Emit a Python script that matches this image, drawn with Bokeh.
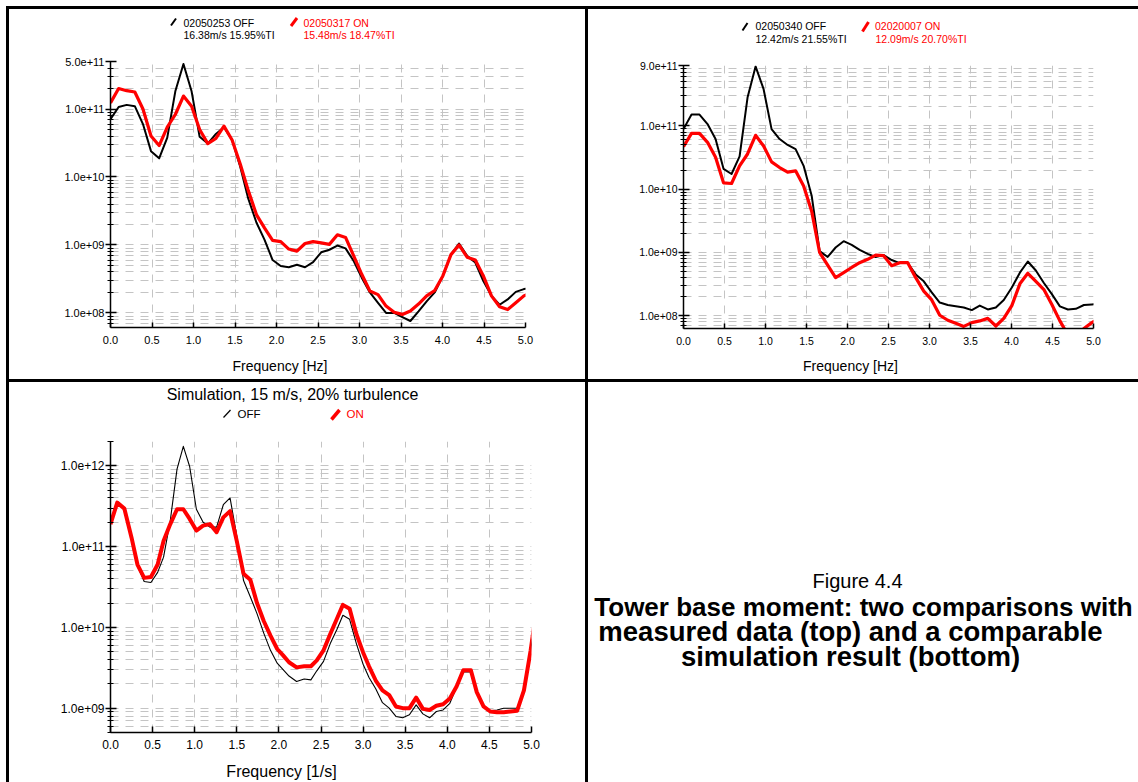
import math

from bokeh.plotting import figure
from bokeh.models import (FixedTicker, CustomJSTickFormatter, PrintfTickFormatter,
                          Label, Spacer, Range1d)
from bokeh.layouts import row, column
from bokeh.embed import file_html
from bokeh.resources import INLINE

FONT = "Liberation Sans"
GRID = "#c4c4c4"
RED = "#ff0000"

# ---------------------------------------------------------------- data
# frequency bins of the measured spectra [Hz]
freq_meas = [0.000, 0.098, 0.195, 0.293, 0.391, 0.488, 0.586, 0.684, 0.781, 0.879,
             0.977, 1.074, 1.172, 1.270, 1.367, 1.465, 1.563, 1.660, 1.758, 1.855,
             1.953, 2.051, 2.148, 2.246, 2.344, 2.441, 2.539, 2.637, 2.734, 2.832,
             2.930, 3.027, 3.125, 3.223, 3.320, 3.418, 3.516, 3.613, 3.711, 3.809,
             3.906, 4.004, 4.102, 4.199, 4.297, 4.395, 4.492, 4.590, 4.688, 4.785,
             4.883, 4.980, 5.078]

# run 02050253 (OFF) / 02050317 (ON)
m1_off = [7.1e10, 1.07e11, 1.15e11, 1.10e11, 6.0e10, 2.4e10, 1.88e10, 3.8e10, 1.82e11, 4.6e11,
          1.82e11, 3.9e10, 3.1e10, 4.3e10, 5.4e10, 3.5e10, 1.41e10, 4.8e9, 2.14e9, 1.2e9,
          6.0e8, 4.9e8, 4.7e8, 5.1e8, 4.7e8, 5.6e8, 7.8e8, 8.5e8, 9.8e8, 8.9e8,
          5.8e8, 3.3e8, 2.0e8, 1.41e8, 1.0e8, 1.0e8, 8.7e7, 7.6e7, 1.05e8, 1.48e8,
          2.0e8, 3.5e8, 7.2e8, 1.05e9, 6.9e8, 5.5e8, 2.95e8, 1.78e8, 1.32e8, 1.58e8,
          2.04e8, 2.24e8, 2.34e8]
m1_on = [1.23e11, 2.0e11, 1.86e11, 1.78e11, 1.0e11, 4.0e10, 2.9e10, 5.4e10, 8.3e10, 1.55e11,
         1.10e11, 5.0e10, 3.1e10, 3.7e10, 5.6e10, 3.5e10, 1.55e10, 6.3e9, 2.8e9, 1.78e9,
         1.17e9, 1.12e9, 8.7e8, 8.1e8, 1.05e9, 1.12e9, 1.07e9, 1.02e9, 1.41e9, 1.29e9,
         6.9e8, 3.7e8, 2.1e8, 1.86e8, 1.26e8, 1.02e8, 9.5e7, 1.07e8, 1.35e8, 1.78e8,
         2.14e8, 3.5e8, 7.2e8, 1.0e9, 6.6e8, 6.0e8, 3.5e8, 1.78e8, 1.23e8, 1.12e8,
         1.41e8, 1.78e8, 2.0e8]

# run 02050340 (OFF) / 02020007 (ON)
m2_off = [8.9e10, 1.51e11, 1.51e11, 1.07e11, 6.2e10, 2.1e10, 1.74e10, 3.3e10, 2.8e11, 8.7e11,
          3.8e11, 8.9e10, 6.2e10, 5.0e10, 4.3e10, 2.34e10, 7.9e9, 1.05e9, 8.5e8, 1.2e9,
          1.51e9, 1.32e9, 1.1e9, 9.5e8, 8.5e8, 9.1e8, 7.6e8, 6.8e8, 6.8e8, 4.5e8,
          3.5e8, 2.34e8, 1.62e8, 1.48e8, 1.41e8, 1.35e8, 1.23e8, 1.45e8, 1.26e8, 1.35e8,
          1.78e8, 2.8e8, 4.8e8, 7.2e8, 5.2e8, 3.3e8, 2.2e8, 1.41e8, 1.26e8, 1.29e8,
          1.48e8, 1.51e8, 1.55e8]
m2_on = [4.7e10, 7.6e10, 7.6e10, 5.5e10, 3.2e10, 1.26e10, 1.23e10, 2.34e10, 3.6e10, 7.1e10,
         4.8e10, 2.7e10, 2.2e10, 1.86e10, 1.95e10, 1.12e10, 4.5e9, 1.0e9, 6.3e8, 4.0e8,
         4.8e8, 5.8e8, 6.9e8, 7.8e8, 9.1e8, 8.9e8, 6.2e8, 6.9e8, 6.9e8, 4.0e8,
         2.45e8, 1.78e8, 1.02e8, 8.5e7, 7.6e7, 6.8e7, 7.8e7, 8.3e7, 9.1e7, 6.9e7,
         9.1e7, 1.45e8, 3.2e8, 4.7e8, 3.5e8, 2.6e8, 1.51e8, 8.3e7, 5.0e7, 4.2e7,
         6.3e7, 7.8e7, 9.3e7]

# simulation, 15 m/s, 20 % turbulence [1/s]
freq_sim = [0.00, 0.08, 0.165, 0.25, 0.32, 0.40, 0.48, 0.56, 0.63, 0.71,
            0.79, 0.865, 0.94, 1.02, 1.10, 1.18, 1.26, 1.34, 1.42, 1.50,
            1.58, 1.66, 1.74, 1.82, 1.90, 1.98, 2.05, 2.12, 2.21, 2.30,
            2.38, 2.45, 2.53, 2.61, 2.69, 2.76, 2.84, 2.92, 3.00, 3.07,
            3.15, 3.23, 3.31, 3.39, 3.47, 3.55, 3.63, 3.71, 3.79, 3.87,
            3.95, 4.03, 4.11, 4.19, 4.28, 4.35, 4.43, 4.51, 4.59, 4.67,
            4.75, 4.83, 4.91, 4.99, 5.07]
sim_off = [1.9e11, 3.5e11, 2.95e11, 1.2e11, 5.8e10, 3.7e10, 3.6e10, 4.8e10, 7.4e10, 2.1e11,
           9.1e11, 1.74e12, 9.8e11, 2.9e11, 2.0e11, 1.74e11, 1.74e11, 3.3e11, 4.0e11, 1.35e11,
           3.8e10, 2.4e10, 1.48e10, 8.5e9, 5.2e9, 3.6e9, 3.0e9, 2.5e9, 2.14e9, 2.3e9,
           2.24e9, 2.9e9, 3.8e9, 6.3e9, 9.5e9, 1.41e10, 1.26e10, 6.3e9, 3.5e9, 2.4e9,
           1.74e9, 1.17e9, 1.0e9, 7.9e8, 7.6e8, 8.3e8, 1.1e9, 8.5e8, 7.6e8, 9.1e8,
           9.5e8, 1.15e9, 1.82e9, 2.8e9, 2.8e9, 1.66e9, 1.05e9, 9.3e8, 9.5e8, 1.0e9,
           1.0e9, 1.0e9, 1.66e9, 5.2e9, 2.0e10]
sim_on = [1.9e11, 3.5e11, 2.95e11, 1.29e11, 6.0e10, 4.1e10, 4.2e10, 6.0e10, 1.17e11, 1.9e11,
          2.9e11, 2.9e11, 2.2e11, 1.58e11, 1.82e11, 1.9e11, 1.51e11, 2.3e11, 2.75e11, 1.17e11,
          4.6e10, 3.9e10, 2.0e10, 1.2e10, 7.9e9, 5.4e9, 4.5e9, 3.7e9, 3.2e9, 3.3e9,
          3.3e9, 3.9e9, 5.2e9, 8.3e9, 1.29e10, 1.9e10, 1.7e10, 8.3e9, 4.9e9, 3.3e9,
          2.2e9, 1.66e9, 1.45e9, 1.05e9, 1.0e9, 1.0e9, 1.35e9, 9.8e8, 9.5e8, 1.07e9,
          1.12e9, 1.32e9, 1.86e9, 2.95e9, 2.95e9, 1.58e9, 1.05e9, 9.1e8, 8.9e8, 8.9e8,
          9.1e8, 9.3e8, 1.66e9, 5.2e9, 2.0e10]

# axis ticks
x_ticks = [0.0, 0.5, 1.0, 1.5, 2.0, 2.5, 3.0, 3.5, 4.0, 4.5, 5.0]
m1_yticks = [1e8, 1e9, 1e10, 1e11, 5e11]
m2_yticks = [1e8, 1e9, 1e10, 1e11, 9e11]
sim_yticks = [1e9, 1e10, 1e11, 1e12]

m1_yrange = (6.1e7, 5e11)
m2_yrange = (6.3e7, 9e11)
sim_yrange = (5e8, 2e12)

m1_labels = ("02050253 OFF", "16.38m/s 15.95%TI", "02050317 ON", "15.48m/s 18.47%TI")
m2_labels = ("02050340 OFF", "12.42m/s 21.55%TI", "02020007 ON", "12.09m/s 20.70%TI")
sim_title = "Simulation, 15 m/s, 20% turbulence"
sim_labels = ("OFF", "ON")
caption = ["Figure 4.4",
           "Tower base moment: two comparisons with",
           "measured data (top) and a comparable",
           "simulation result (bottom)"]


# ---------------------------------------------------------------- helpers
SCI = CustomJSTickFormatter(code="""
const s = tick.toExponential(1);
const parts = s.split('e');
const ex = parts[1];
const sign = ex[0] === '-' ? '-' : '+';
let d = ex.replace('+', '').replace('-', '');
if (d.length < 2) { d = '0' + d; }
return parts[0] + 'e' + sign + d;
""")


def log_minor(lo, hi, majors):
    out = []
    for e in range(int(math.floor(math.log10(lo))), int(math.ceil(math.log10(hi))) + 1):
        for m in range(2, 10):
            v = m * 10.0 ** e
            if lo * 0.999 <= v <= hi * 1.001 and all(abs(v - t) > 1e-6 * t for t in majors):
                out.append(v)
    return out


def spectrum_panel(width, height, borders, yrange, yticks, tick_px, label_std, tick_in):
    left, right, top, bottom = borders
    p = figure(width=width, height=height, x_range=Range1d(0, 5),
               y_range=Range1d(*yrange), y_axis_type="log", title=None,
               output_backend="svg", toolbar_location=None,
               min_border_left=left, min_border_right=right,
               min_border_top=top, min_border_bottom=bottom)
    p.outline_line_color = None

    yt = FixedTicker(ticks=yticks, minor_ticks=log_minor(yrange[0], yrange[1], yticks))
    xt = FixedTicker(ticks=x_ticks, minor_ticks=[])

    ya = p.yaxis[0]
    ya.ticker = yt
    ya.formatter = SCI
    ya.major_tick_in = 6
    ya.major_tick_out = 5
    ya.minor_tick_in = 3
    ya.minor_tick_out = 3
    ya.major_label_standoff = 1

    xa = p.xaxis[0]
    xa.ticker = xt
    xa.formatter = PrintfTickFormatter(format="%.1f")
    xa.major_tick_in = tick_in
    xa.major_tick_out = 0
    xa.minor_tick_in = 0
    xa.minor_tick_out = 0
    xa.major_label_standoff = label_std

    for ax in (xa, ya):
        ax.axis_line_color = "black"
        ax.axis_line_width = 1.5
        ax.major_tick_line_color = "black"
        ax.major_tick_line_width = 1.5
        ax.minor_tick_line_color = "black"
        ax.minor_tick_line_width = 1.2
        ax.major_label_text_font = FONT
        ax.major_label_text_font_size = tick_px
        ax.major_label_text_color = "black"

    p.ygrid.ticker = yt
    p.xgrid.ticker = xt
    p.ygrid.grid_line_color = GRID
    p.ygrid.grid_line_dash = "8 7"
    p.ygrid.minor_grid_line_color = GRID
    p.ygrid.minor_grid_line_dash = "8 7"
    p.xgrid.grid_line_color = GRID
    p.xgrid.grid_line_dash = "8 7"
    return p


def text_strip(width, height, left, right, top, bottom, xr, yr):
    """Axis-less strip whose data coordinates are page pixels (y downwards)."""
    p = figure(width=width, height=height, x_range=Range1d(*xr), y_range=Range1d(*yr),
               x_axis_type=None, y_axis_type=None, title=None,
               output_backend="svg", toolbar_location=None,
               min_border_left=left, min_border_right=right,
               min_border_top=top, min_border_bottom=bottom)
    p.outline_line_color = None
    return p


def text(p, x, baseline, s, size, color="black", align="left", style="normal"):
    # Label is anchored at the middle of the em box; shift so the glyphs sit on `baseline`
    px = float(size.replace("px", ""))
    p.add_layout(Label(x=x, y=baseline - 0.35 * px, text=s, text_font=FONT,
                       text_font_size=size, text_color=color, text_align=align,
                       text_baseline="alphabetic", text_font_style=style))


def slash(p, x0, y0, x1, y1, color, width):
    p.line([x0, x1], [y0, y1], line_color=color, line_width=width, line_cap="butt")


# ---------------------------------------------------------------- top left cell
h1 = text_strip(576, 40, 101, 60, 0, 0, (110, 525), (49, 9))
slash(h1, 170.5, 25, 175.5, 18, "black", 2)
slash(h1, 290.5, 25.5, 296.5, 17.5, RED, 3)
text(h1, 183, 26, m1_labels[0], "10.5px")
text(h1, 183, 38, m1_labels[1], "10.5px")
text(h1, 303, 26, m1_labels[2], "10.5px", RED)
text(h1, 303, 38, m1_labels[3], "10.5px", RED)

p1 = spectrum_panel(576, 303, (101, 60, 12, 25), m1_yrange, m1_yticks, "11px", 8, 5)
p1.line(freq_meas, m1_off, line_color="black", line_width=2, line_join="round")
p1.line(freq_meas, m1_on, line_color=RED, line_width=3.2, line_join="round")

b1 = text_strip(576, 27, 101, 60, 0, 0, (110, 525), (379, 352))
text(b1, 279.5, 370.5, "Frequency [Hz]", "14px", align="center")

# ---------------------------------------------------------------- top right cell
h2 = text_strip(550, 44, 95, 45, 0, 0, (683, 1093), (53, 9))
slash(h2, 742, 30, 747, 22.5, "black", 2)
slash(h2, 862, 31, 868, 21.5, RED, 3)
text(h2, 755, 29.5, m2_labels[0], "10.5px")
text(h2, 755, 42.5, m2_labels[1], "10.5px")
text(h2, 874.5, 29.5, m2_labels[2], "10.5px", RED)
text(h2, 875, 42.5, m2_labels[3], "10.5px", RED)

p2 = spectrum_panel(550, 299, (95, 45, 12, 24), m2_yrange, m2_yticks, "10.5px", 8, 5)
p2.line(freq_meas, m2_off, line_color="black", line_width=2, line_join="round")
p2.line(freq_meas, m2_on, line_color=RED, line_width=3.2, line_join="round")

b2 = text_strip(550, 27, 95, 45, 0, 0, (683, 1093), (379, 352))
text(b2, 850, 370.5, "Frequency [Hz]", "14px", align="center")

# ---------------------------------------------------------------- bottom left cell
h3 = text_strip(576, 47, 101, 54, 0, 0, (110, 531), (429, 382))
text(h3, 292, 400, sim_title, "16px", align="center")
slash(h3, 223, 417, 230, 409.5, "black", 1.2)
slash(h3, 331, 419, 339, 409.5, RED, 3.5)
text(h3, 237, 417.5, sim_labels[0], "11.5px")
text(h3, 346, 417.5, sim_labels[1], "11.5px", RED)

p3 = spectrum_panel(576, 328, (101, 54, 12, 25), sim_yrange, sim_yticks, "12px", 7, 6)
p3.line(freq_sim, sim_off, line_color="black", line_width=1.1, line_join="round")
p3.line(freq_sim, sim_on, line_color=RED, line_width=4, line_join="round")

b3 = text_strip(576, 25, 101, 54, 0, 0, (110, 531), (782, 757))
text(b3, 281, 777, "Frequency [1/s]", "16px", align="center")

# ---------------------------------------------------------------- caption cell
p4 = text_strip(550, 328, 0, 0, 12, 25, (588, 1138), (732, 441))
text(p4, 857, 587, caption[0], "20px", align="center")
text(p4, 863, 616, caption[1], "26px", align="center", style="bold")
text(p4, 850, 641, caption[2], "27.5px", align="center", style="bold")
text(p4, 850, 666, caption[3], "27.5px", align="center", style="bold")


# ---------------------------------------------------------------- page
def bar(w, h):
    return Spacer(width=w, height=h, styles={"background-color": "black"})


cell1 = column(h1, p1, b1)
cell2 = column(h2, p2, b2)
cell3 = column(h3, p3, b3)
cell4 = column(Spacer(width=550, height=47), p4, Spacer(width=550, height=25))

page = column(
    Spacer(width=1138, height=6),
    row(Spacer(width=6, height=3), bar(1132, 3)),
    row(Spacer(width=6, height=370), bar(3, 370), cell1, bar(3, 370), cell2),
    row(Spacer(width=6, height=3), bar(1132, 3)),
    row(Spacer(width=6, height=400), bar(3, 400), cell3, bar(3, 400), cell4),
)

open("out.html", "w").write(file_html(page, INLINE))
